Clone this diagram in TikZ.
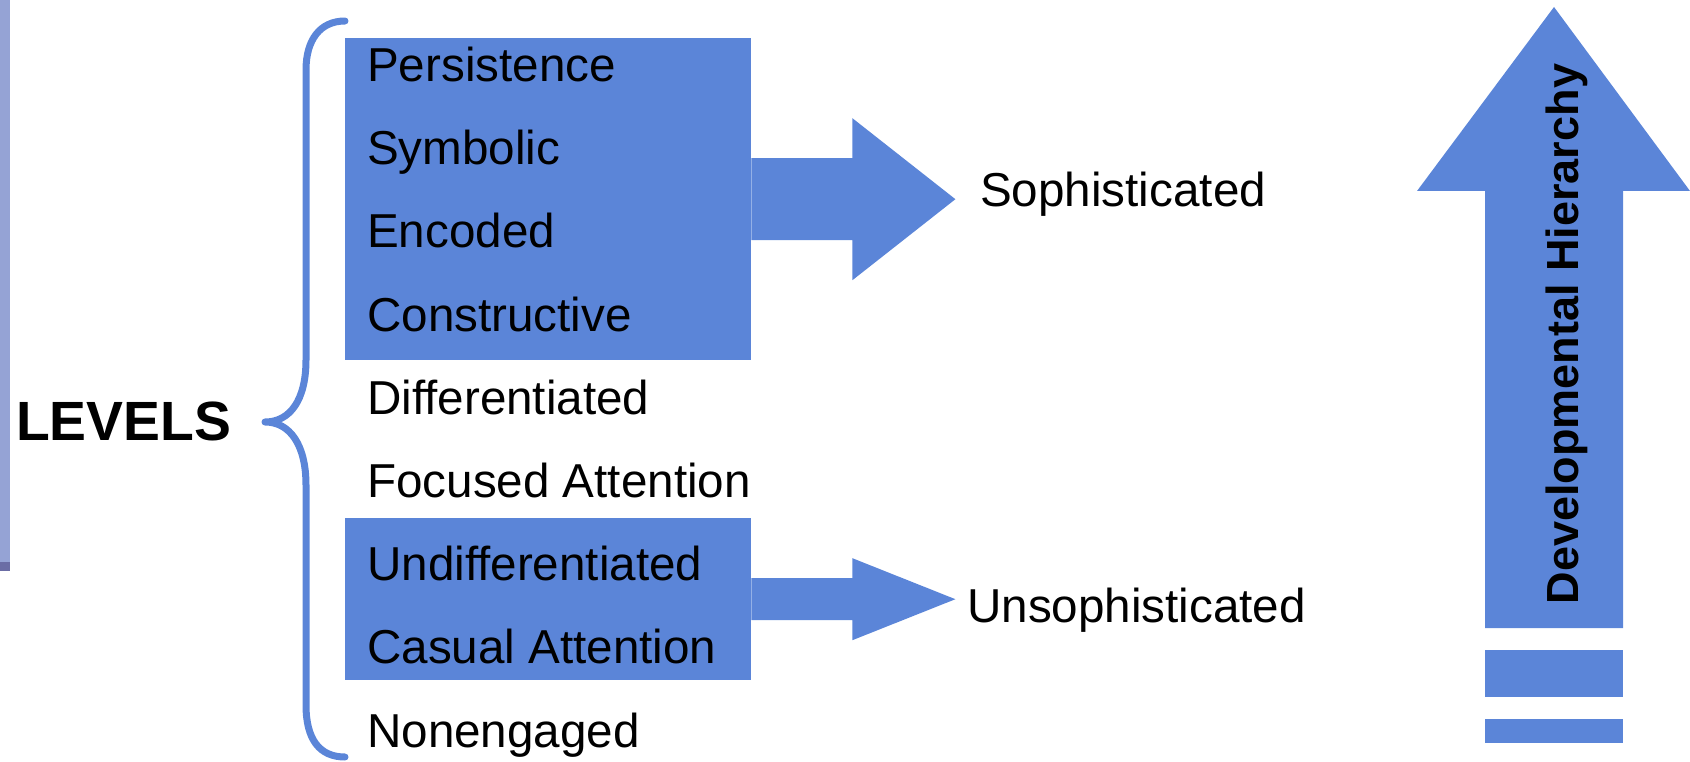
\documentclass[tikz,border=0pt]{standalone}
\usepackage{fontspec}
\setmainfont{Liberation Sans}
\usetikzlibrary{calc}
\definecolor{levelblue}{RGB}{91,133,216}
\definecolor{sidebar}{RGB}{149,163,213}
\definecolor{sidebardark}{RGB}{107,109,165}
\begin{document}
\begin{tikzpicture}[x=1pt,y=-1pt,
  lvl/.style={anchor=base west,inner sep=0pt,font=\fontsize{47.6}{56}\selectfont},
  result/.style={anchor=base west,inner sep=0pt,font=\fontsize{47.6}{56}\selectfont},
  bluebox/.style={fill=levelblue,draw=none,inner sep=0pt,anchor=north west},
  blockarrow/.style={fill=levelblue,draw=none},
  bracepath/.style={draw=levelblue,line width=7pt,line cap=round,line join=round}]
\useasboundingbox (0,0) rectangle (1690,762);

% slide side bar
\fill[sidebar] (0,0) rectangle (10,562);
\fill[sidebardark] (0,562) rectangle (10,571);

% highlighted groups of levels
\node[bluebox,minimum width=406pt,minimum height=322pt] (topbox) at (345,38) {};
\node[bluebox,minimum width=406pt,minimum height=162pt] (lowbox) at (345,518) {};

% label and brace
\node[anchor=base west,inner sep=0pt,font=\fontsize{55.3}{66}\selectfont\bfseries] (levels) at (16,440) {LEVELS};
\coordinate (bracetip) at (265,422);
\draw[bracepath] (345,21) .. controls (320,21) and (306,40) .. (306,70)
  -- (306,360) .. controls (306,400) and (290,422) .. (bracetip)
  .. controls (290,422) and (306,445) .. (306,485)
  -- (306,705) .. controls (306,740) and (320,757) .. (345,757);

% levels
\node[lvl] (l1) at (367,82) {Persistence};
\node[lvl] (l2) at (367,165) {Symbolic};
\node[lvl] (l3) at (367,248) {Encoded};
\node[lvl] (l4) at (367,331) {Constructive};
\node[lvl] (l5) at (367,414) {Differentiated};
\node[lvl] (l6) at (367,497) {Focused Attention};
\node[lvl] (l7) at (367,580) {Undifferentiated};
\node[lvl] (l8) at (367,663) {Casual Attention};
\node[lvl] (l9) at (367,747) {Nonengaged};

% outcomes
\node[result] (soph) at (980,207) {Sophisticated};
\node[result] (unsoph) at (967,622) {Unsophisticated};

% block arrows from the groups to the outcomes
\fill[blockarrow] ($(topbox.east)+(0,-41)$) -- ++(101,0) -- ++(0,-40)
  -- ($(topbox.east)+(204,0)$) -- ($(topbox.east)+(101,81)$) -- ++(0,-40)
  -- ($(topbox.east)+(0,41)$) -- cycle;
\fill[blockarrow] ($(lowbox.east)+(0,-21)$) -- ++(101,0) -- ++(0,-20)
  -- ($(lowbox.east)+(204,0)$) -- ($(lowbox.east)+(101,41)$) -- ++(0,-20)
  -- ($(lowbox.east)+(0,21)$) -- cycle;

% developmental hierarchy arrow
\fill[blockarrow] (1485,628) -- (1485,191) -- (1417,191) -- (1554,7)
  -- (1690,191) -- (1623,191) -- (1623,628) -- cycle;
\fill[blockarrow] (1485,650) rectangle (1623,697);
\fill[blockarrow] (1485,719) rectangle (1623,743);
\node[anchor=base,rotate=90,inner sep=0pt,font=\fontsize{45}{54}\selectfont\bfseries] (dev) at (1578,334) {Developmental Hierarchy};
\end{tikzpicture}
\end{document}
